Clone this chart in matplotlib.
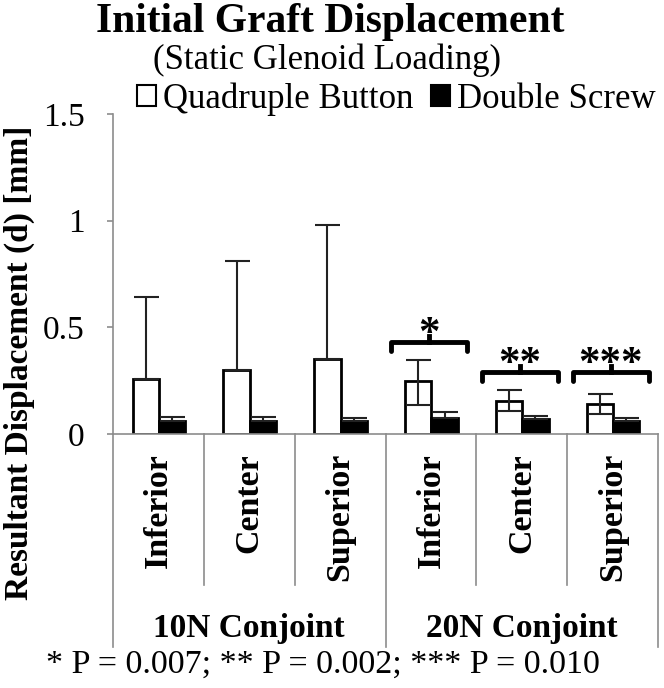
import matplotlib
matplotlib.use('Agg')
import matplotlib.pyplot as plt
from matplotlib.patches import Patch

plt.rcParams['font.family'] = ['Liberation Serif', 'DejaVu Serif']

# data
positions = ['Inferior', 'Center', 'Superior', 'Inferior', 'Center', 'Superior']
groups = ['10N Conjoint', '20N Conjoint']
quad_button = [0.26, 0.30, 0.353, 0.248, 0.155, 0.14]
quad_err_lo = [0.0, 0.0, 0.0, 0.11, 0.048, 0.047]
quad_err_hi = [0.38, 0.51, 0.625, 0.10, 0.05, 0.047]
double_screw = [0.062, 0.062, 0.062, 0.074, 0.072, 0.062]
screw_err_hi = [0.02, 0.016, 0.013, 0.03, 0.012, 0.014]
sig_index = [3, 4, 5]
sig_marks = ['*', '**', '***']
bracket_y = [0.43, 0.29, 0.29]
footnote = '* P = 0.007; ** P = 0.002; *** P = 0.010'

fig = plt.figure(figsize=(6.64, 6.88), dpi=100)
ax = fig.add_axes([113/664, 1 - 434/688, 545/664, 320/688])

x = [i + 0.5 for i in range(len(positions))]
w = 0.29
xq = [xi - 0.14 for xi in x]
xd = [xi + 0.15 for xi in x]

ax.bar(xq, quad_button, w, color='white', edgecolor='black', linewidth=2, zorder=2)
ax.bar(xd, double_screw, w, color='black', edgecolor='black', linewidth=2, zorder=2)
ax.errorbar(xq, quad_button, yerr=[quad_err_lo, quad_err_hi], fmt='none',
            ecolor='#222222', elinewidth=1.5, capsize=9, capthick=1.5, zorder=3)
ax.errorbar(xd, double_screw, yerr=[[0]*6, screw_err_hi], fmt='none',
            ecolor='#222222', elinewidth=1.5, capsize=9, capthick=1.5, zorder=3)

ax.set_xlim(0, 6)
ax.set_ylim(0, 1.5)
ax.set_yticks([0, 0.5, 1, 1.5])
ax.set_yticklabels(['0', '0.5', '1', '1.5'], fontsize=24)
ax.set_xticks([])
for s in ['top', 'right']:
    ax.spines[s].set_visible(False)
for s in ['left', 'bottom']:
    ax.spines[s].set_color('#8c8c8c')
    ax.spines[s].set_linewidth(1.2)
ax.tick_params(axis='y', length=4.5, width=1.2, color='#8c8c8c', pad=16)
fig.text(19.5/664, 1 - 363/688, 'Resultant Displacement (d) [mm]', rotation=90,
         ha='center', va='center', fontsize=24, fontweight='bold')

# category separators and labels below the axis
for b in range(7):
    y_end = -1.0 if b % 3 == 0 else -0.71
    ax.plot([b, b], [0, y_end], color='#8c8c8c', lw=1.2, clip_on=False)
for xi, lab in zip(x, positions):
    ax.text(xi, -0.09, lab, rotation=90, ha='center', va='top',
            fontsize=24.5, fontweight='bold')
for g, lab in enumerate(groups):
    ax.text(g*3 + 1.5, -0.91, lab, ha='center', va='center',
            fontsize=24, fontweight='bold')

# significance brackets
for i, mark, top in zip(sig_index, sig_marks, bracket_y):
    xc = i + 0.48
    hw = 0.42
    ax.plot([xc - hw, xc - hw, xc + hw, xc + hw], [top - 0.04, top, top, top - 0.04],
            color='black', lw=3.5, solid_joinstyle='round', solid_capstyle='round',
            clip_on=False, zorder=4)
    ax.plot([xc, xc], [top, top + 0.03], color='black', lw=3.5, clip_on=False, zorder=4)
    ax.text(xc, top - 0.015, mark, ha='center', va='baseline', fontsize=31,
            fontweight='bold')

# legend
handles = [Patch(facecolor='white', edgecolor='black', linewidth=1.5),
           Patch(facecolor='black', edgecolor='black', linewidth=1.5)]
fig.legend(handles, ['Quadruple Button', 'Double Screw'], loc='center',
           bbox_to_anchor=(396/664, 1 - 99/688), ncol=2, frameon=False,
           fontsize=25, handlelength=0.55, handleheight=0.55, handletextpad=0.2,
           columnspacing=0.5, borderpad=0)

fig.text(330/664, 1 - 22/688, 'Initial Graft Displacement', ha='center',
         va='center', fontsize=30, fontweight='bold')
fig.text(327/664, 1 - 60/688, '(Static Glenoid Loading)', ha='center',
         va='center', fontsize=25)
fig.text(323/664, 1 - 665/688, footnote, ha='center', va='center', fontsize=24.5)

fig.savefig('out.png', dpi=100)
